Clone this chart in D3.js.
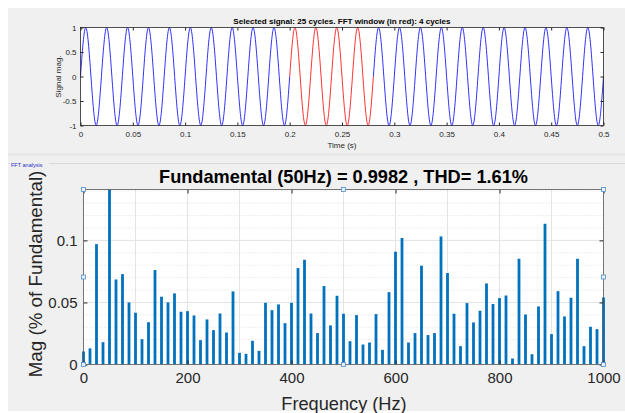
<!DOCTYPE html>
<html>
<head>
<meta charset="utf-8">
<script src="https://cdn.jsdelivr.net/npm/d3@7"></script>
<style>
  body { margin: 0; background: #fff; }
  svg { display: block; font-family: "Liberation Sans", Arial, Helvetica, sans-serif; }
</style>
</head>
<body>
<svg width="625" height="413"></svg>
<script>
// ---- data ----
// top plot: 25 cycles of a 50 Hz signal, FFT window = cycles 10..14 (in red)
const signalCycles = 25;
const signalFreq = 50;
const windowStartCycle = 10;
const windowCycles = 4;
// one cycle sampled at quarter periods, as seen on the plot
const cycleShape = [0, 1, 0, -1];
const timeTicks = [0, 0.05, 0.1, 0.15, 0.2, 0.25, 0.3, 0.35, 0.4, 0.45, 0.5];
const timeTickLabels = ["0", "0.05", "0.1", "0.15", "0.2", "0.25", "0.3", "0.35", "0.4", "0.45", "0.5"];
const magTicks = [-1, -0.5, 0, 0.5, 1];
const magTickLabels = ["-1", "-0.5", "0", "0.5", "1"];

// bottom plot: harmonic magnitudes, 12.5 Hz bins (1 / 0.08 s window) from 0 to 1000 Hz
const binWidth = 12.5;
const harmonicMag = [
  0.0105, 0.013, 0.097, 0.018, 1.0, 0.0685, 0.0728, 0.05, 0.0417, 0.0204,
  0.0341, 0.0761, 0.0546, 0.05, 0.0573, 0.0425, 0.043, 0.0395, 0.0196, 0.0363,
  0.0277, 0.0411, 0.0258, 0.0589, 0.0094, 0.0086, 0.0191, 0.011, 0.0497, 0.0438,
  0.0484, 0.0333, 0.0497, 0.0777, 0.0844, 0.0411, 0.0253, 0.0632, 0.0315, 0.0554,
  0.0409, 0.0188, 0.0398, 0.0161, 0.0177, 0.0406, 0.0118, 0.0583, 0.0909, 0.1019,
  0.0177, 0.0253, 0.0796, 0.0237, 0.0253, 0.1032, 0.0737, 0.0409, 0.0148, 0.0495,
  0.0339, 0.0433, 0.0653, 0.0487, 0.0535, 0.0556, 0.0048, 0.0852, 0.0403, 0.0083,
  0.0468, 0.1134, 0.0245, 0.0591, 0.0387, 0.0538, 0.0852, 0.0148, 0.0304, 0.0285,
  0.054
];
const freqTicks = [0, 200, 400, 600, 800, 1000];
const freqTickLabels = ["0", "200", "400", "600", "800", "1000"];
const fftTicks = [0, 0.05, 0.1];
const fftTickLabels = ["0", "0.05", "0.1"];
const fftMinorY = [0.01, 0.02, 0.03, 0.04, 0.06, 0.07, 0.08, 0.09, 0.11, 0.12, 0.13, 0.14];
const fftGridX = [100, 200, 300, 400, 500, 600, 700, 800, 900];

const topTitle = "Selected signal: 25 cycles. FFT window (in red): 4 cycles";
const fftTitle = "Fundamental (50Hz) = 0.9982 , THD= 1.61%";

// ---- drawing ----
let svg = d3.select("svg");
let textCol = "#262626";
let axisCol = "#262626";

// figure background
svg.append("rect")
   .attr("x", 8).attr("y", 8)
   .attr("width", 617).attr("height", 403)
   .attr("fill", "#f0f0f0");

// panel separators
svg.append("rect")
   .attr("x", 8).attr("y", 153.5)
   .attr("width", 617).attr("height", 2)
   .attr("fill", "#e3e3e3");
svg.append("line")
   .attr("x1", 8).attr("x2", 10).attr("y1", 163.5).attr("y2", 163.5)
   .attr("stroke", "#d9d9d9");
svg.append("line")
   .attr("x1", 49).attr("x2", 625).attr("y1", 163.5).attr("y2", 163.5)
   .attr("stroke", "#d9d9d9");
svg.append("text")
   .attr("x", 11).attr("y", 167.3)
   .style("font-size", "5.5px")
   .attr("fill", "#2b2bc8")
   .text("FFT analysis");

// ---------- top: time signal ----------
let xT = d3.scaleLinear().domain([0, 0.5]).range([80.5, 603.5]);
let yT = d3.scaleLinear().domain([-1, 1]).range([125.5, 27.5]);

svg.append("rect")
   .attr("x", xT(0)).attr("y", yT(1))
   .attr("width", xT(0.5) - xT(0)).attr("height", yT(-1) - yT(1))
   .attr("fill", "#fff");

// build the sample points (quarter periods) from the read cycle shape
let period = 1 / signalFreq;
let pts = [];
for (let c = 0; c < signalCycles; c++) {
  cycleShape.forEach((v, i) => pts.push({t: (c + i / 4) * period, v: v}));
}
pts.push({t: signalCycles * period, v: cycleShape[0]});

let line = d3.line()
   .x(d => xT(d.t))
   .y(d => yT(d.v))
   .curve(d3.curveNatural);

let wStart = windowStartCycle * period;
let wEnd = (windowStartCycle + windowCycles) * period;
let eps = 1e-9;
let segs = [
  {data: pts.filter(d => d.t <= wStart + eps), col: "#1a1aff"},
  {data: pts.filter(d => d.t >= wStart - eps && d.t <= wEnd + eps), col: "#ff1a1a"},
  {data: pts.filter(d => d.t >= wEnd - eps), col: "#1a1aff"}
];
svg.selectAll("path.sig")
   .data(segs)
   .enter().append("path")
     .attr("class", "sig")
     .attr("d", d => line(d.data))
     .attr("fill", "none")
     .attr("stroke", d => d.col)
     .attr("stroke-width", 0.9);

function styleAxis(g, size) {
  g.select(".domain").remove();
  g.selectAll(".tick line").attr("stroke", axisCol);
  g.selectAll(".tick text").attr("fill", textCol).style("font-size", size);
}

// x axis bottom + top ticks
svg.append("g")
   .attr("transform", `translate(0,${yT(-1)})`)
   .call(d3.axisBottom(xT).tickValues(timeTicks)
          .tickFormat((d, i) => timeTickLabels[i]).tickSize(-3).tickPadding(6))
   .call(g => styleAxis(g, "8px"));
svg.append("g")
   .attr("transform", `translate(0,${yT(1)})`)
   .call(d3.axisTop(xT).tickValues(timeTicks).tickFormat("").tickSize(-3))
   .call(g => styleAxis(g, "8px"));
svg.append("g")
   .attr("transform", `translate(${xT(0)},0)`)
   .call(d3.axisLeft(yT).tickValues(magTicks)
          .tickFormat((d, i) => magTickLabels[i]).tickSize(-3).tickPadding(4))
   .call(g => styleAxis(g, "8px"));
svg.append("g")
   .attr("transform", `translate(${xT(0.5)},0)`)
   .call(d3.axisRight(yT).tickValues(magTicks).tickFormat("").tickSize(-3))
   .call(g => styleAxis(g, "8px"));

svg.append("rect")
   .attr("x", xT(0)).attr("y", yT(1))
   .attr("width", xT(0.5) - xT(0)).attr("height", yT(-1) - yT(1))
   .attr("fill", "none").attr("stroke", axisCol).attr("stroke-width", 0.8);

svg.append("text")
   .attr("x", 342).attr("y", 24)
   .attr("text-anchor", "middle")
   .style("font-size", "8.1px").style("font-weight", "bold")
   .attr("fill", "#000")
   .text(topTitle);
svg.append("text")
   .attr("x", (xT(0) + xT(0.5)) / 2).attr("y", 148)
   .attr("text-anchor", "middle")
   .style("font-size", "8px")
   .attr("fill", textCol)
   .text("Time (s)");
svg.append("text")
   .attr("transform", "rotate(-90)")
   .attr("x", -(yT(1) + yT(-1)) / 2).attr("y", 61)
   .attr("text-anchor", "middle")
   .style("font-size", "8px")
   .attr("fill", textCol)
   .text("Signal mag.");

// ---------- bottom: FFT ----------
let xB = d3.scaleLinear().domain([0, 1000]).range([83.5, 603.5]);
let yB = d3.scaleLinear().domain([0, 0.141]).range([364.5, 189.5]);
let bins = harmonicMag.map((v, i) => ({f: i * binWidth, v: v}));

svg.append("rect")
   .attr("x", xB(0)).attr("y", yB(0.141))
   .attr("width", xB(1000) - xB(0)).attr("height", yB(0) - yB(0.141))
   .attr("fill", "#fff");

// grid
svg.append("g").selectAll("line")
   .data(fftMinorY)
   .enter().append("line")
     .attr("x1", xB(0)).attr("x2", xB(1000))
     .attr("y1", d => yB(d)).attr("y2", d => yB(d))
     .attr("stroke", "#d4d4d4").attr("stroke-width", 0.8)
     .attr("stroke-dasharray", "1,2");
svg.append("g").selectAll("line")
   .data(fftGridX)
   .enter().append("line")
     .attr("x1", d => xB(d)).attr("x2", d => xB(d))
     .attr("y1", yB(0)).attr("y2", yB(0.141))
     .attr("stroke", "#e3e3e3").attr("stroke-width", 1);
svg.append("g").selectAll("line")
   .data(fftTicks.slice(1))
   .enter().append("line")
     .attr("x1", xB(0)).attr("x2", xB(1000))
     .attr("y1", d => yB(d)).attr("y2", d => yB(d))
     .attr("stroke", "#e3e3e3").attr("stroke-width", 1);

// bars (clipped to the axes)
svg.append("clipPath").attr("id", "fftclip")
   .append("rect")
   .attr("x", xB(0) - 5).attr("y", yB(0.141))
   .attr("width", xB(1000) - xB(0) + 10).attr("height", yB(0) - yB(0.141));
let barW = 2.8;
svg.append("g").attr("clip-path", "url(#fftclip)")
   .selectAll("rect")
   .data(bins)
   .enter().append("rect")
     .attr("x", d => xB(d.f) - barW / 2)
     .attr("y", d => yB(d.v))
     .attr("width", barW)
     .attr("height", d => yB(0) - yB(d.v))
     .attr("fill", "#0072bd");

svg.append("g")
   .attr("transform", `translate(0,${yB(0)})`)
   .call(d3.axisBottom(xB).tickValues(freqTicks)
          .tickFormat((d, i) => freqTickLabels[i]).tickSize(-4).tickPadding(8))
   .call(g => styleAxis(g, "15px"));
svg.append("g")
   .attr("transform", `translate(0,${yB(0.141)})`)
   .call(d3.axisTop(xB).tickValues(freqTicks).tickFormat("").tickSize(-4))
   .call(g => styleAxis(g, "15px"));
svg.append("g")
   .attr("transform", `translate(${xB(0)},0)`)
   .call(d3.axisLeft(yB).tickValues(fftTicks)
          .tickFormat((d, i) => fftTickLabels[i]).tickSize(-4).tickPadding(6))
   .call(g => styleAxis(g, "15px"));
svg.append("g")
   .attr("transform", `translate(${xB(1000)},0)`)
   .call(d3.axisRight(yB).tickValues(fftTicks).tickFormat("").tickSize(-4))
   .call(g => styleAxis(g, "15px"));

svg.append("rect")
   .attr("x", xB(0)).attr("y", yB(0.141))
   .attr("width", xB(1000) - xB(0)).attr("height", yB(0) - yB(0.141))
   .attr("fill", "none").attr("stroke", "#555").attr("stroke-width", 0.8);

// selection handles (corners and edge midpoints)
let hx = [xB(0), (xB(0) + xB(1000)) / 2, xB(1000)];
let hy = [yB(0.141), (yB(0) + yB(0.141)) / 2, yB(0)];
let handles = [];
hx.forEach((x, i) => hy.forEach((y, j) => { if (!(i === 1 && j === 1)) handles.push([x, y]); }));
svg.append("g").selectAll("rect")
   .data(handles)
   .enter().append("rect")
     .attr("x", d => d[0] - 2).attr("y", d => d[1] - 2)
     .attr("width", 4).attr("height", 4)
     .attr("fill", "#e8f0f8").attr("stroke", "#4f8fcf").attr("stroke-width", 0.8);

svg.append("text")
   .attr("x", 343.5).attr("y", 182.7)
   .attr("text-anchor", "middle")
   .style("font-size", "18.2px").style("font-weight", "bold")
   .attr("fill", "#000")
   .text(fftTitle);
svg.append("text")
   .attr("x", 344).attr("y", 409.5)
   .attr("text-anchor", "middle")
   .style("font-size", "18.2px")
   .attr("fill", textCol)
   .text("Frequency (Hz)");
svg.append("text")
   .attr("transform", "rotate(-90)")
   .attr("x", -274).attr("y", 41.5)
   .attr("text-anchor", "middle")
   .style("font-size", "18.8px")
   .attr("fill", textCol)
   .text("Mag (% of Fundamental)");
</script>
</body>
</html>
